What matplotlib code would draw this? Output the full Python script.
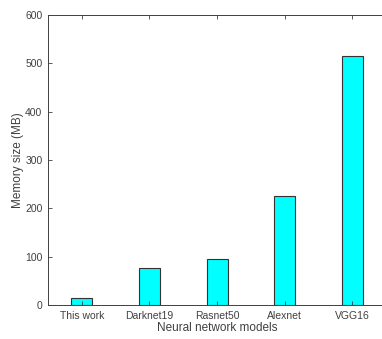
import matplotlib.pyplot as plt

models = ["This work", "Darknet19", "Rasnet50", "Alexnet", "VGG16"]
memory_mb = [14, 77, 96, 226, 516]
y_ticks = [0, 100, 200, 300, 400, 500, 600]

plt.rcParams['font.family'] = ['Liberation Sans', 'DejaVu Sans']

fig = plt.figure(figsize=(3.82, 3.39), dpi=100)
ax = fig.add_axes([0.1257, 0.1003, 0.885, 0.855])

x = list(range(1, len(models) + 1))
ax.bar(x, memory_mb, width=0.31, color='#00ffff', edgecolor='#333333', linewidth=0.8)

ax.set_xlim(0.5, 5.5)
ax.set_ylim(0, 600)
ax.set_xticks(x)
ax.set_xticklabels(models)
ax.set_yticks(y_ticks)

ax.tick_params(direction='in', length=3, width=0.6, colors='#404040',
               labelsize=7.5, top=True, right=True, pad=4)
for side in ax.spines.values():
    side.set_color('#404040')
    side.set_linewidth(0.7)

ax.set_xlabel('Neural network models', fontsize=8.5, color='#404040', labelpad=1)
ax.set_ylabel('Memory size (MB)', fontsize=8.5, color='#404040', labelpad=1)

fig.savefig('out.png', dpi=100)
